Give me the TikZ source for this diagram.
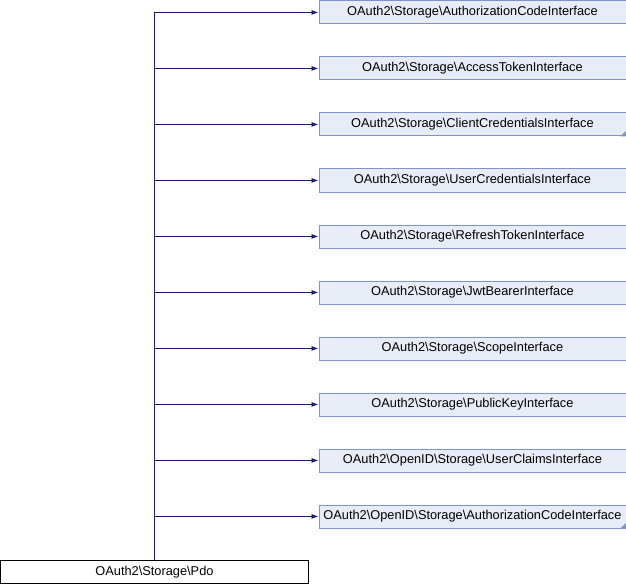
\documentclass[tikz,border=0pt]{standalone}
\usepackage{fontspec}
\setmainfont{Liberation Sans}
\usetikzlibrary{arrows.meta}
\definecolor{boxfill}{HTML}{E8ECF6}
\definecolor{boxdraw}{HTML}{7B94CB}
\definecolor{edge}{HTML}{191970}
\tikzset{
  iface/.style={draw=boxdraw, fill=boxfill, line width=0.9bp, minimum width=307bp, minimum height=23bp, inner sep=0pt, font=\fontsize{12.8bp}{14bp}\selectfont, anchor=north west},
  basebox/.style={draw=black, fill=white, line width=0.9bp, minimum width=307bp, minimum height=23bp, inner sep=0pt, font=\fontsize{12.8bp}{14bp}\selectfont, anchor=north west},
  inh/.style={draw=edge, line width=0.9bp, -{Latex[length=7bp,width=5bp]}},
}
\begin{document}
\begin{tikzpicture}[x=1bp,y=-1bp]
\useasboundingbox (0,0) rectangle (626,584);
\node[iface] (b0) at (318.5,0.5) {OAuth2\textbackslash Storage\textbackslash AuthorizationCodeInterface};
\node[iface] (b1) at (318.5,56.5) {OAuth2\textbackslash Storage\textbackslash AccessTokenInterface};
\node[iface] (b2) at (318.5,112.5) {OAuth2\textbackslash Storage\textbackslash ClientCredentialsInterface};
\node[iface] (b3) at (318.5,168.5) {OAuth2\textbackslash Storage\textbackslash UserCredentialsInterface};
\node[iface] (b4) at (318.5,224.5) {OAuth2\textbackslash Storage\textbackslash RefreshTokenInterface};
\node[iface] (b5) at (318.5,280.5) {OAuth2\textbackslash Storage\textbackslash JwtBearerInterface};
\node[iface] (b6) at (318.5,336.5) {OAuth2\textbackslash Storage\textbackslash ScopeInterface};
\node[iface] (b7) at (318.5,392.5) {OAuth2\textbackslash Storage\textbackslash PublicKeyInterface};
\node[iface] (b8) at (318.5,448.5) {OAuth2\textbackslash OpenID\textbackslash Storage\textbackslash UserClaimsInterface};
\node[iface] (b9) at (318.5,504.5) {OAuth2\textbackslash OpenID\textbackslash Storage\textbackslash AuthorizationCodeInterface};
\node[basebox] (pdo) at (0.5,560.2) {OAuth2\textbackslash Storage\textbackslash Pdo};
% folded corners
\fill[boxdraw] (b2.south east) -- ++(-6,0) -- ++(6,-6) -- cycle;
\fill[boxdraw] (b9.south east) -- ++(-6,0) -- ++(6,-6) -- cycle;
\foreach \i in {0,...,9}{
  \draw[inh] (pdo.north) |- (b\i.west);
}
\end{tikzpicture}
\end{document}
